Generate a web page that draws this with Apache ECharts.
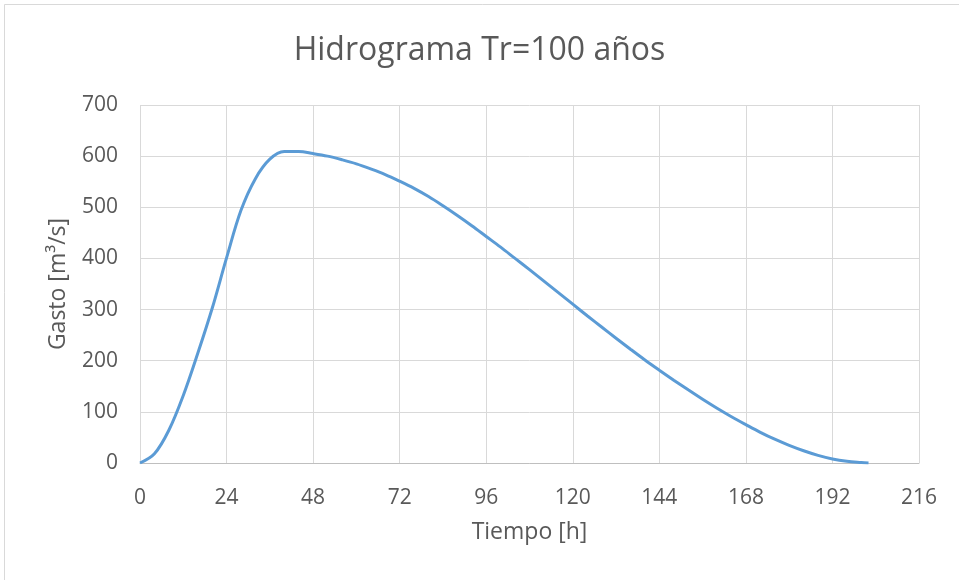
<!DOCTYPE html>
<html>
<head>
<meta charset="utf-8">
<script src="https://cdn.jsdelivr.net/npm/echarts@6/dist/echarts.min.js"></script>
<style>
html,body{margin:0;padding:0;background:#fff;}
#c{width:959px;height:580px;}
</style>
</head>
<body>
<div id="c"></div>
<script>
const timeH = [0,4,8,12,16,20,24,28,32,36,40,44,48,52,56,60,64,68,72,76,80,84,88,92,96,100,104,108,112,116,120,124,128,132,136,140,144,148,152,156,160,164,168,172,176,180,184,188,192,196,200,202];
const gasto = [0,18,64,132,214,302,401,494,556,594,609,609,605,600,593,585,575,564,551,537,521,503,484,464,443,422,400,378,355.5,333,310.5,288,266,244,222.5,201.5,181.5,162,143,124.5,107,90.5,75,60,46.5,34.5,24,15,8,3.5,1,0];
const xTicks = [0,24,48,72,96,120,144,168,192,216];
const yTicks = [0,100,200,300,400,500,600,700];

const chart = echarts.init(document.getElementById('c'));
const txt = '#595959';
const font = '"Open Sans", sans-serif';
chart.setOption({
  animation: false,
  backgroundColor: '#fff',
  title: {
    text: 'Hidrograma Tr=100 años',
    left: 'center', top: 30,
    textStyle: {fontFamily: font, fontSize: 32, fontWeight: 'normal', color: txt}
  },
  graphic: [{
    type: 'rect', silent: true, z: -10,
    shape: {x: 4.5, y: 4.5, width: 980, height: 600},
    style: {fill: 'none', stroke: '#d9d9d9', lineWidth: 1}
  }],
  grid: {left: 140, right: 40, top: 105, bottom: 117, containLabel: false},
  xAxis: {
    type: 'value', min: xTicks[0], max: xTicks[xTicks.length-1], interval: 24,
    name: 'Tiempo [h]', nameLocation: 'middle', nameGap: 58,
    nameTextStyle: {fontFamily: font, fontSize: 23, color: txt},
    axisLine: {show: true, lineStyle: {color: '#bfbfbf', width: 1}},
    axisTick: {show: false},
    axisLabel: {fontFamily: font, fontSize: 21, color: txt, margin: 25},
    splitLine: {show: true, lineStyle: {color: '#d9d9d9', width: 1}}
  },
  yAxis: {
    type: 'value', min: yTicks[0], max: yTicks[yTicks.length-1], interval: 100,
    name: 'Gasto [m³/s]', nameLocation: 'middle', nameGap: 70, nameRotate: 90,
    nameTextStyle: {fontFamily: font, fontSize: 23, color: txt},
    axisLine: {show: false},
    axisTick: {show: false},
    axisLabel: {fontFamily: font, fontSize: 21, color: txt, margin: 22},
    splitLine: {show: true, lineStyle: {color: '#d9d9d9', width: 1}}
  },
  series: [{
    type: 'line',
    data: timeH.map((t, i) => [t, gasto[i]]),
    smooth: 0.35,
    showSymbol: false,
    lineStyle: {color: '#5B9BD5', width: 3},
    itemStyle: {color: '#5B9BD5'}
  }]
});
</script>
</body>
</html>
